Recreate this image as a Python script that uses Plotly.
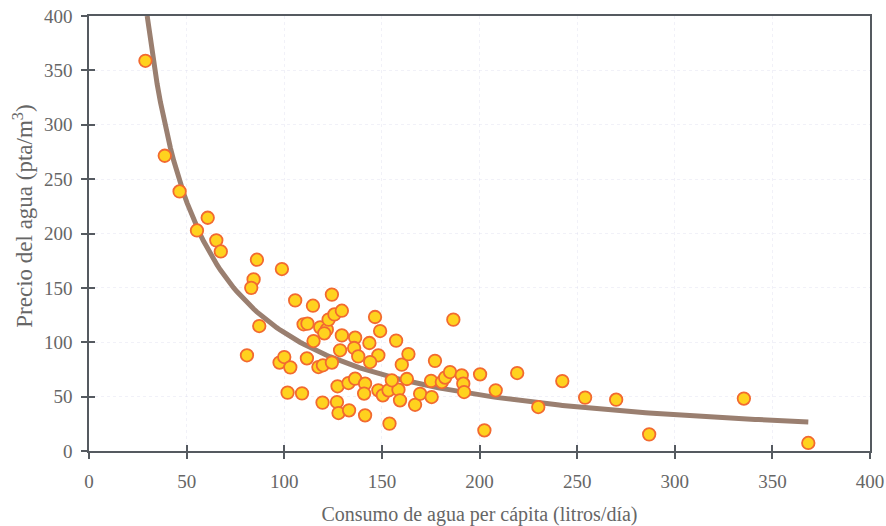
import plotly.graph_objects as go

# Consumption (litres/day per capita) and water price (pta/m3)
consumo = [28.9, 38.8, 46.4, 55.3, 60.8, 65.2, 67.5, 86.0, 84.3, 83.1, 87.2, 80.9,
           98.8, 105.6, 97.6, 100.0, 103.1, 101.7, 109.1, 109.9, 111.9, 111.6, 114.7,
           115.0, 117.5, 119.8, 119.6, 118.4, 121.8, 120.5, 122.7, 124.4, 125.7, 129.5,
           129.5, 128.6, 124.4, 127.3, 127.0, 127.8, 133.2, 132.9, 136.3, 135.8, 136.3,
           137.9, 141.4, 140.9, 141.4, 143.6, 148.2, 144.0, 146.5, 149.1, 148.2, 150.5,
           153.4, 158.5, 155.1, 153.9, 157.3, 160.2, 163.6, 162.8, 159.3, 167.0, 169.6,
           175.2, 175.5, 177.2, 180.7, 182.4, 184.9, 186.6, 190.9, 191.7, 192.1, 200.3,
           202.5, 208.3, 219.3, 230.1, 242.4, 254.1, 270.0, 286.9, 335.4, 368.4]
precio = [358.8, 271.5, 238.7, 202.8, 214.5, 193.7, 183.5, 175.9, 157.8, 150.0, 114.9, 88.0,
          167.3, 138.5, 81.3, 86.4, 76.9, 53.7, 53.0, 116.5, 117.1, 85.2, 133.6,
          101.1, 77.2, 78.8, 44.5, 113.7, 111.6, 108.2, 120.8, 143.8, 125.6, 129.0,
          106.3, 92.6, 81.3, 59.5, 45.0, 34.9, 37.4, 62.5, 104.2, 94.7, 66.5,
          87.0, 61.9, 52.8, 32.8, 99.3, 88.0, 81.8, 123.2, 110.3, 55.8, 51.2,
          55.8, 56.4, 65.0, 25.2, 101.5, 79.4, 89.1, 66.2, 46.6, 42.5, 52.6,
          64.5, 49.6, 82.9, 63.4, 67.5, 72.6, 120.8, 69.6, 61.9, 54.2, 70.5,
          19.0, 55.8, 71.7, 40.4, 64.3, 49.1, 47.2, 15.3, 48.2, 7.4]

# Power trendline y = a * x^b (coefficients)
trend_a = 15428.0
trend_b = -1.076
trend_x_start = 29.8
trend_x_end = 368.4
n_pts = 200
trend_x = [trend_x_start + (trend_x_end - trend_x_start) * i / (n_pts - 1) for i in range(n_pts)]
trend_y = [trend_a * x ** trend_b for x in trend_x]

tick_vals = [0, 50, 100, 150, 200, 250, 300, 350, 400]

FONT = "Liberation Serif, Times New Roman, serif"
TXT = "#666666"
AX = "#555a60"

fig = go.Figure()
fig.add_trace(go.Scatter(x=trend_x, y=trend_y, mode="lines",
                         line=dict(color="#9a7f70", width=5), hoverinfo="skip",
                         showlegend=False))
fig.add_trace(go.Scatter(x=consumo, y=precio, mode="markers",
                         marker=dict(size=12.5, color="#ffd21e",
                                     line=dict(color="#f26a30", width=1.8)),
                         showlegend=False))
# dummy trace for inside-tick overlay axes
fig.add_trace(go.Scatter(x=[None], y=[None], xaxis="x2", yaxis="y2",
                         showlegend=False, hoverinfo="skip"))

common = dict(range=[0, 400], tickvals=tick_vals, showgrid=True,
              gridcolor="rgba(215,215,235,0.35)", griddash="dot", gridwidth=1,
              zeroline=False, showline=True, linecolor=AX, linewidth=1.5,
              mirror=True, ticks="outside", ticklen=6, tickwidth=1.5, tickcolor=AX,
              automargin=False,
              tickfont=dict(family=FONT, size=19, color=TXT))

fig.update_layout(
    width=886, height=526,
    margin=dict(l=88.5, r=15.5, t=15.7, b=75.3, autoexpand=False),
    paper_bgcolor="white", plot_bgcolor="white",
    xaxis=dict(**common, ticklabelstandoff=6,
               title=dict(text="Consumo de agua per cápita (litros/día)",
                          font=dict(family=FONT, size=20, color=TXT), standoff=18)),
    yaxis=dict(**common, ticklabelstandoff=5),
    xaxis2=dict(range=[0, 400], tickvals=tick_vals, overlaying="x", anchor="y",
                side="bottom", ticks="inside", ticklen=6, tickwidth=1.5, tickcolor=AX,
                showticklabels=False, showgrid=False, zeroline=False, showline=False,
                automargin=False),
    yaxis2=dict(range=[0, 400], tickvals=tick_vals, overlaying="y", anchor="x",
                side="left", ticks="inside", ticklen=6, tickwidth=1.5, tickcolor=AX,
                showticklabels=False, showgrid=False, zeroline=False, showline=False,
                automargin=False),
    annotations=[dict(text="Precio del agua (pta/m<sup>3</sup>)", textangle=-90,
                      xref="paper", yref="paper", x=-0.085, y=0.54,
                      xanchor="center", yanchor="middle", showarrow=False,
                      font=dict(family=FONT, size=23, color=TXT))],
)

fig.write_html("out.html", config={"displayModeBar": False},
               post_script="document.body.style.margin='0';document.body.style.overflow='hidden';")
